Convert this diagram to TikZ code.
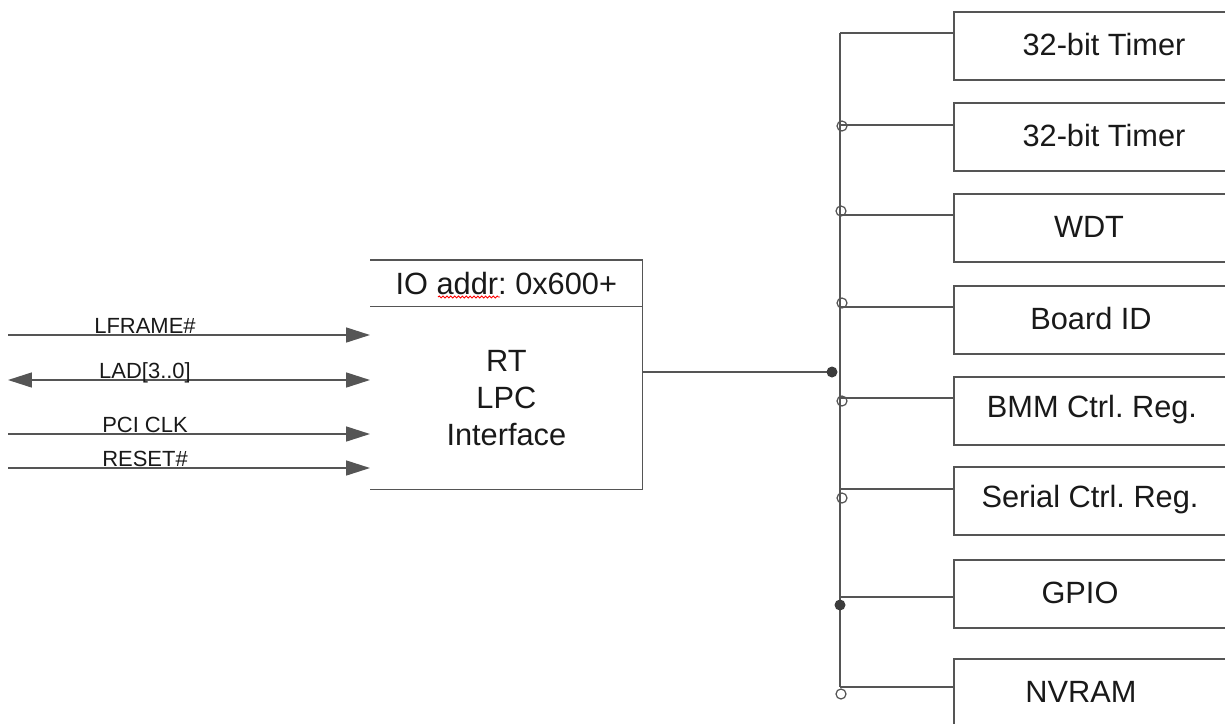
\documentclass[tikz,border=0pt]{standalone}
\usepackage{fontspec}
\setmainfont{Liberation Sans}
\usetikzlibrary{arrows.meta,decorations.pathmorphing}

\definecolor{wiregray}{RGB}{85,85,85}
\definecolor{ink}{RGB}{25,25,25}

\begin{document}
\frenchspacing
\begin{tikzpicture}[x=0.02cm,y=-0.02cm,
  wire/.style={draw=wiregray,line width=0.9pt},
  tip/.tip={Triangle[length=13.6pt,width=8.5pt]},
  sig/.style={wire,-tip},
  sigtxt/.style={anchor=base,inner sep=0pt,text=ink,font=\fontsize{12.5}{14}\selectfont},
  bigtxt/.style={inner sep=0pt,text=ink,font=\fontsize{17.5}{21}\selectfont},
  regbox/.style={wire,anchor=north west,minimum width=6.1cm,minimum height=1.36cm,inner sep=0pt},
  hole/.style={draw=wiregray,line width=0.7pt},
  dot/.style={fill=wiregray!70!black}]

\useasboundingbox (0,0) rectangle (1225,724);
\clip (0,0) rectangle (1225,724);

% LPC block (no left edge)
\node[bigtxt,anchor=north west,minimum width=5.44cm,minimum height=0.92cm] (hdr) at (370,260) {IO addr: 0x600+};
\node[bigtxt,anchor=north west,minimum width=5.44cm,minimum height=3.66cm,align=center] (lpc) at (370,306) {RT\\LPC\\Interface};
\draw[wire] (hdr.north west) -- (hdr.north east) -- (lpc.south east) -- (lpc.south west);
\draw[wire] (hdr.south west) -- (hdr.south east);
\draw[red,line width=0.5pt,decorate,decoration={snake,segment length=2.2pt,amplitude=0.55pt}] (438,297) -- (500,297);

% LPC bus signals
\coordinate (lframe) at (8,335);
\coordinate (lad) at (8,380);
\coordinate (pciclk) at (8,434);
\coordinate (reset) at (8,468);
\draw[sig] (lframe) -- (lframe -| lpc.west);
\draw[wire,tip-tip] (lad) -- (lad -| lpc.west);
\draw[sig] (pciclk) -- (pciclk -| lpc.west);
\draw[sig] (reset) -- (reset -| lpc.west);
\node[sigtxt] (lframe-t) at (145,333) {LFRAME\#};
\node[sigtxt] (lad-t) at (145,378) {LAD[3..0]};
\node[sigtxt] (pciclk-t) at (145,432) {PCI CLK};
\node[sigtxt] (reset-t) at (145,466) {RESET\#};

% internal bus
\coordinate (bustop) at (840,33);
\coordinate (busbot) at (840,687);
\coordinate (tap) at (832,372);
\draw[wire] (bustop) -- (busbot);
\draw[wire] (tap -| lpc.east) -- (tap);
\fill[dot] (tap) circle (0.11cm);

% register blocks
\foreach \top/\cy/\cx/\name/\txt in {
  11/33/1104/tmra/32-bit Timer,
  102/125/1104/tmrb/32-bit Timer,
  193/215/1089/wdt/WDT,
  285/307/1091/bid/Board ID,
  376/398/1092/bmm/BMM Ctrl. Reg.,
  466/489/1090/ser/Serial Ctrl. Reg.,
  559/597/1080/gpio/GPIO,
  658/687/1081/nvram/NVRAM}{
  \node[regbox] (\name) at (953,\top) {};
  \node[bigtxt] (\name-t) at (\cx,\top+34) {\txt};
  \coordinate (\name-in) at (840,\cy);
  \draw[wire] (\name-in) -- (\name-in -| \name.west);
}

% junction marks
\foreach \jx/\jy in {842/126,841/211,842/303,842/401,842/498,841/694}
  \draw[hole] (\jx,\jy) circle (0.1cm);
\fill[dot] (840,605) circle (0.11cm);

\end{tikzpicture}
\end{document}
